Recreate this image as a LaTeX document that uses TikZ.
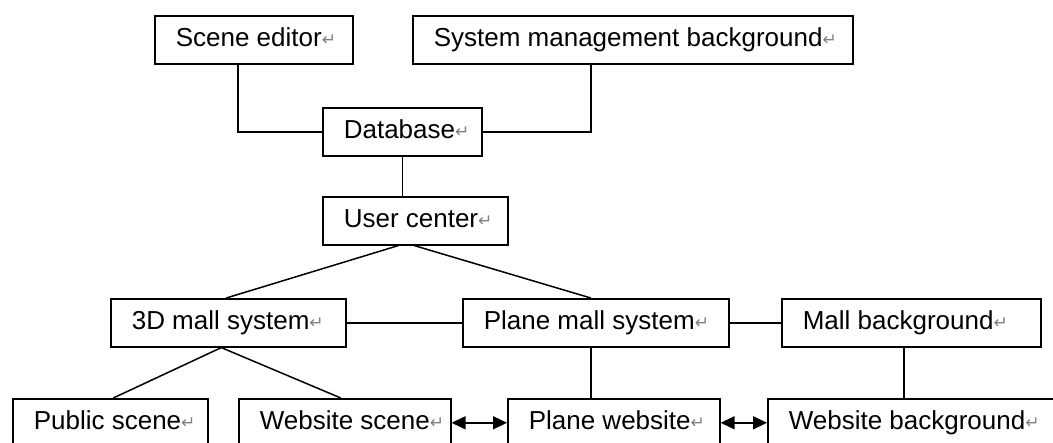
\documentclass[tikz,border=0pt]{standalone}
\usepackage{fontspec}
\setmainfont{Liberation Sans}
\newfontfamily\symfnt{DejaVu Sans}
\usetikzlibrary{arrows.meta}
\newcommand{\retmark}{\raisebox{1.5pt}{\symfnt\fontsize{17}{17}\selectfont\color{gray}↵}}
\newcommand{\bx}[2]{\hbox to #1pt{\hskip21pt #2\retmark\hss}}
\begin{document}
\begin{tikzpicture}[x=1pt,y=-1pt,
  box/.style={draw, line width=1.6pt, inner xsep=0pt, inner ysep=0pt,
    text height=31pt, text depth=17pt, anchor=north west,
    font=\fontsize{26}{26}\selectfont},
  conn/.style={line width=1.5pt},
  biarrow/.style={line width=1.5pt, {Triangle[length=14pt,width=13pt]}-{Triangle[length=14pt,width=13pt]}}]
\useasboundingbox (0,0) rectangle (1053,443);
\clip (0,0) rectangle (1053,443);
\fill[white] (0,0) rectangle (1053,443);

\node[box] (se)  at (154,15)  {\bx{198}{Scene editor}};
\node[box] (smb) at (412,15)  {\bx{440}{System management background}};
\node[box] (db)  at (322,107) {\bx{159}{Database}};
\node[box] (uc)  at (322,196) {\bx{185}{User center}};
\node[box] (m3d) at (110,298) {\bx{235}{3D mall system}};
\node[box] (pms) at (462,298) {\bx{266}{Plane mall system}};
\node[box] (mbg) at (781,298) {\bx{259}{Mall background}};
\node[box] (pub) at (12,398)  {\bx{195}{Public scene}};
\node[box] (wss) at (238,398) {\bx{212}{Website scene}};
\node[box] (pw)  at (507,398) {\bx{212}{Plane website}};
\node[box] (wbg) at (767,398) {\bx{300}{Website background}};

\draw[conn] ([xshift=84pt]se.south west) |- (db.west);
\draw[conn] ([xshift=179pt]smb.south west) |- (db.east);
\draw[conn] (db.south) -- (db.south |- uc.north);
\draw[conn] ([xshift=-17pt]uc.south) -- ([xshift=-2pt]m3d.north);
\draw[conn] ([xshift=-1pt]uc.south) -- ([xshift=-5pt]pms.north);
\draw[conn] (m3d.east) -- (pms.west);
\draw[conn] (pms.east) -- (mbg.west);
\draw[conn] ([xshift=-7pt]m3d.south) -- ([xshift=3pt]pub.north);
\draw[conn] ([xshift=-7pt]m3d.south) -- ([xshift=-4pt]wss.north);
\draw[conn] ([xshift=-5pt]pms.south) -- ([xshift=-5pt]pms.south |- pw.north);
\draw[conn] ([xshift=-7.5pt]mbg.south) -- ([xshift=-7.5pt]mbg.south |- wbg.north);
\draw[biarrow] (wss.east) -- (pw.west);
\draw[biarrow] (pw.east) -- (wbg.west);
\end{tikzpicture}
\end{document}
